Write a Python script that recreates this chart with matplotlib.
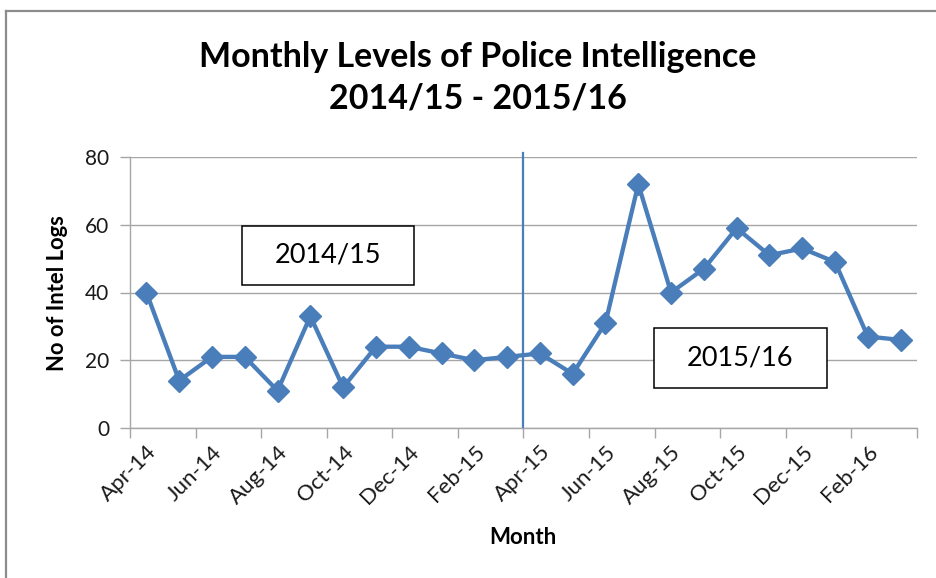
import matplotlib
matplotlib.use("Agg")
import matplotlib.pyplot as plt
from matplotlib.lines import Line2D
from matplotlib.patches import Rectangle

months = ["Apr-14", "May-14", "Jun-14", "Jul-14", "Aug-14", "Sep-14", "Oct-14", "Nov-14",
          "Dec-14", "Jan-15", "Feb-15", "Mar-15", "Apr-15", "May-15", "Jun-15", "Jul-15",
          "Aug-15", "Sep-15", "Oct-15", "Nov-15", "Dec-15", "Jan-16", "Feb-16", "Mar-16"]
intel_logs = [40, 14, 21, 21, 11, 33, 12, 24, 24, 22, 20, 21,
              22, 16, 31, 72, 40, 47, 59, 51, 53, 49, 27, 26]
y_ticks = [0, 20, 40, 60, 80]
period_labels = ["2014/15", "2015/16"]

plt.rcParams['font.family'] = ['Lato', 'DejaVu Sans']

W, H = 936, 578
fig = plt.figure(figsize=(W / 100, H / 100), dpi=100)
fig.patch.set_facecolor("white")

def fx(px):
    return px / W

def fy(py):
    return 1 - py / H

ax = fig.add_axes([fx(130), fy(428), fx(917) - fx(130), fy(157) - fy(428)])

x = list(range(len(months)))
blue = "#4a7ebb"
ax.plot(x, intel_logs, color=blue, lw=3.1, marker="D", ms=11.5, zorder=3)

ax.set_xlim(-0.5, len(months) - 0.5)
ax.set_ylim(y_ticks[0], y_ticks[-1])
ax.set_yticks(y_ticks)
ax.yaxis.grid(True, color="#a6a6a6", lw=1)
ax.set_axisbelow(True)

grey = "#a6a6a6"
for s in ["top", "right"]:
    ax.spines[s].set_visible(False)
for s in ["left", "bottom"]:
    ax.spines[s].set_color(grey)
    ax.spines[s].set_linewidth(1)

# tick marks at category boundaries every 2 months, labels at category centres
ax.set_xticks([i - 0.5 for i in range(0, len(months) + 1, 2)])
ax.set_xticklabels([])
ax.set_xticks(x[::2], minor=True)
ax.set_xticklabels(months[::2], minor=True, rotation=45, ha="right",
                   rotation_mode="anchor", fontsize=16, color="#1a1a1a")
ax.tick_params(axis="x", which="major", length=7, color=grey, width=1)
ax.tick_params(axis="x", which="minor", length=0, pad=10)
ax.tick_params(axis="y", length=7, color=grey, width=1, labelsize=15, pad=8,
               labelcolor="#1a1a1a")

# divider between the two financial years
split = months.index("Apr-15") - 0.5
ax.plot([split, split], [0, 81.2], color=blue, lw=1.6, clip_on=False, zorder=2)

# period boxes
for label, (x0, y0, x1, y1) in zip(period_labels, [(242, 226, 414, 285), (654, 328, 827, 388)]):
    fig.add_artist(Rectangle((fx(x0), fy(y1)), fx(x1) - fx(x0), fy(y0) - fy(y1),
                             transform=fig.transFigure, fc="white", ec="black", lw=1.1, zorder=5))
    fig.text(fx((x0 + x1) / 2), fy((y0 + y1) / 2), label, ha="center", va="center",
             fontsize=19.5, color="black", zorder=6)

# titles
fig.text(fx(478), fy(57), "Monthly Levels of Police Intelligence", ha="center", va="center",
         fontsize=24.5, fontweight="bold", color="black")
fig.text(fx(478), fy(99), "2014/15 - 2015/16", ha="center", va="center",
         fontsize=24.5, fontweight="bold", color="black")
fig.text(fx(523), fy(538), "Month", ha="center", va="center", fontsize=16,
         fontweight="bold", color="black")
fig.text(fx(58), fy(293), "No of Intel Logs", ha="center", va="center", rotation=90,
         fontsize=15.8, fontweight="bold", color="black")

# chart frame (partially visible)
fig.add_artist(Line2D([fx(6), fx(6)], [fy(11), 0], transform=fig.transFigure, color="#8c8c8c", lw=1.6))
fig.add_artist(Line2D([fx(6), 1], [fy(11), fy(11)], transform=fig.transFigure, color="#8c8c8c", lw=1.6))

fig.savefig("out.png", dpi=100)
